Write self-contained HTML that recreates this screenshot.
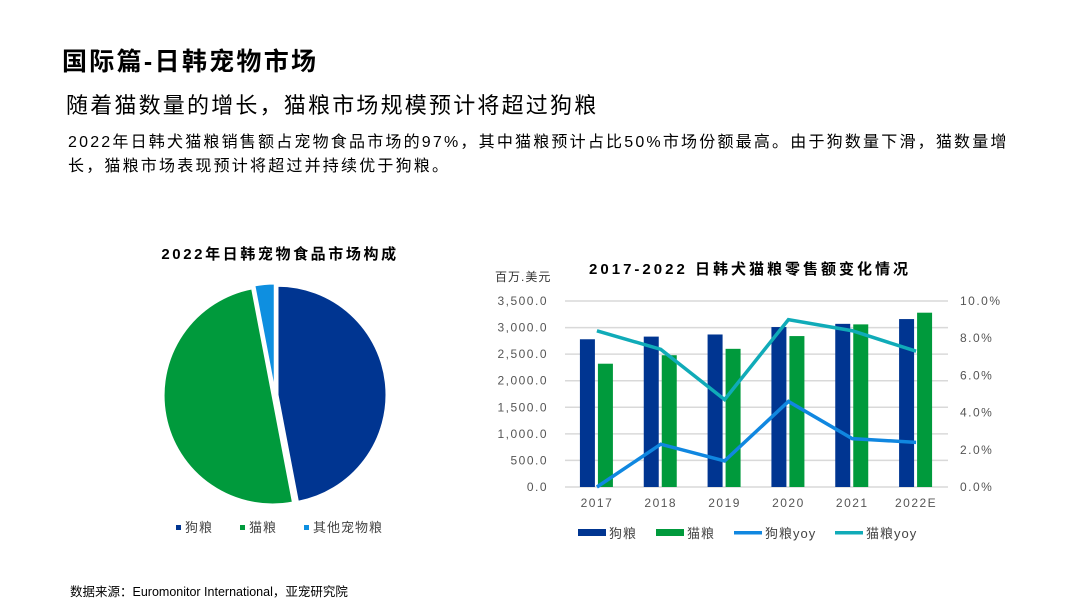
<!DOCTYPE html>
<html><head><meta charset="utf-8">
<style>
body{margin:0;width:1080px;height:608px;background:#fff;font-family:"Liberation Sans","Noto Sans CJK SC",sans-serif;overflow:hidden;position:relative;color:#000}
.t{position:absolute;white-space:nowrap}
</style></head><body>
<div class="t" style="left:62px;top:42px;font-size:25px;font-weight:bold;letter-spacing:2.3px">国际篇-日韩宠物市场</div>
<div class="t" style="left:66px;top:88px;font-size:22px;letter-spacing:2.2px">随着猫数量的增长，猫粮市场规模预计将超过狗粮</div>
<div class="t" style="left:68px;top:131px;font-size:16px;line-height:24px;letter-spacing:2.2px">2022年日韩犬猫粮销售额占宠物食品市场的97%，其中猫粮预计占比50%市场份额最高。由于狗数量下滑，猫数量增<br>长，猫粮市场表现预计将超过并持续优于狗粮。</div>
<div class="t" style="left:70px;top:581px;font-size:12.5px">数据来源：Euromonitor International，亚宠研究院</div>

<svg id="pie" width="1080" height="608" style="position:absolute;left:0;top:0">
<text x="280" y="259" text-anchor="middle" font-size="15" font-weight="bold" letter-spacing="2.6">2022年日韩宠物食品市场构成</text>
<g id="slices"></g>
<g id="pieLegend" font-size="13" letter-spacing="1"></g>
</svg>

<svg id="bar" width="1080" height="608" style="position:absolute;left:0;top:0">
<text x="750" y="274" text-anchor="middle" font-size="15" font-weight="bold" letter-spacing="3">2017-2022  日韩犬猫粮零售额变化情况</text>
<text x="495" y="281" font-size="12" fill="#333" letter-spacing="1">百万.美元</text>
<g id="grid"></g><g id="bars"></g><g id="lines"></g><g id="axes" font-size="12" fill="#555" letter-spacing="1.5"></g><g id="legend" font-size="13" letter-spacing="1"></g>
</svg>

<script>
const pieLabels=["狗粮","猫粮","其他宠物粮"];
const pieValues=[47,50,3];
const pieColors=["#003591","#009a3c","#0e8fe0"];

const categories=["2017","2018","2019","2020","2021","2022E"];
const dogSales=[2780,2830,2870,3010,3070,3160];
const catSales=[2320,2480,2600,2840,3060,3280];
const dogYoy=[0,2.3,1.4,4.6,2.6,2.4];
const catYoy=[8.4,7.4,4.7,9.0,8.4,7.3];
const leftTicks=[0,500,1000,1500,2000,2500,3000,3500];
const rightTicks=[0,2,4,6,8,10];

const NS="http://www.w3.org/2000/svg";
function mk(tag,attrs,parent){const e=document.createElementNS(NS,tag);for(const k in attrs)e.setAttribute(k,attrs[k]);parent.appendChild(e);return e;}

const cx=275,cy=395,R=109;
const total=pieValues.reduce((a,b)=>a+b,0);
let a0=0;
const sl=document.getElementById('slices');
pieValues.forEach((v,i)=>{
  const a1=a0+v/total*2*Math.PI;
  const mid=(a0+a1)/2;const off=2.5;
  const ox=cx+off*Math.sin(mid),oy=cy-off*Math.cos(mid);
  const x0=ox+R*Math.sin(a0),y0=oy-R*Math.cos(a0),x1=ox+R*Math.sin(a1),y1=oy-R*Math.cos(a1);
  const p=mk('path',{d:`M${ox},${oy}L${x0},${y0}A${R},${R} 0 ${a1-a0>Math.PI?1:0} 1 ${x1},${y1}Z`,fill:pieColors[i],stroke:'#fff','stroke-width':2},sl);
  
  
  a0=a1;
});
const pl=document.getElementById('pieLegend');
const plx=[176,240,304];
pieLabels.forEach((l,i)=>{
  const r=mk('rect',{x:plx[i],y:525,width:5,height:5,fill:pieColors[i]},pl);
  
  
  const t=mk('text',{x:plx[i]+9,y:532,fill:'#444'},pl);t.textContent=l;
  
  
});

const X0=565,X1=948,Y0=487,Y1=301;
const step=(X1-X0)/categories.length;
const xc=i=>X0+step*(i+0.5);
const yL=v=>Y0-(v/3500)*(Y0-Y1);
const yR=v=>Y0-(v/10)*(Y0-Y1);
const g=document.getElementById('grid'),ax=document.getElementById('axes');
leftTicks.forEach(t=>{
  const l=mk('line',{x1:X0,x2:X1,y1:yL(t),y2:yL(t),stroke:'#d9d9d9','stroke-width':1.5},g);
  
  
  const tx=mk('text',{x:548,y:yL(t)+4,'text-anchor':'end'},ax);
  tx.textContent=t.toLocaleString('en-US',{minimumFractionDigits:1,maximumFractionDigits:1});
  
  
});
rightTicks.forEach(t=>{
  const tx=mk('text',{x:960,y:yR(t)+4},ax);tx.textContent=t.toFixed(1)+'%';
  
  
});
categories.forEach((c,i)=>{
  const tx=mk('text',{x:xc(i),y:507,'text-anchor':'middle'},ax);tx.textContent=c;
  
  
});
const b=document.getElementById('bars');const bw=15;
categories.forEach((c,i)=>{
  const r1=mk('rect',{x:xc(i)-bw-2,y:yL(dogSales[i]),width:bw,height:Y0-yL(dogSales[i]),fill:'#003591'},b);
  
  
  const r2=mk('rect',{x:xc(i)+1,y:yL(catSales[i]),width:bw,height:Y0-yL(catSales[i]),fill:'#009a3c'},b);
  
  
});
const ln=document.getElementById('lines');
const dl=mk('polyline',{points:dogYoy.map((v,i)=>xc(i)+','+yR(v)).join(' '),fill:'none',stroke:'#1087e0','stroke-width':3.5},ln);


const cl=mk('polyline',{points:catYoy.map((v,i)=>xc(i)+','+yR(v)).join(' '),fill:'none',stroke:'#10abb8','stroke-width':3.5},ln);



const lg=document.getElementById('legend');
const legItems=[["狗粮","#003591","rect",578],["猫粮","#009a3c","rect",656],["狗粮yoy","#1087e0","line",734],["猫粮yoy","#10abb8","line",835]];
legItems.forEach(it=>{
  const m=mk('rect',{x:it[3],y:it[2]=="rect"?529:531,width:28,height:it[2]=="rect"?7:3.5,fill:it[1]},lg);
  
  
  const t=mk('text',{x:it[3]+31,y:538,fill:'#444'},lg);t.textContent=it[0];
  
  
});
</script>
</body></html>
